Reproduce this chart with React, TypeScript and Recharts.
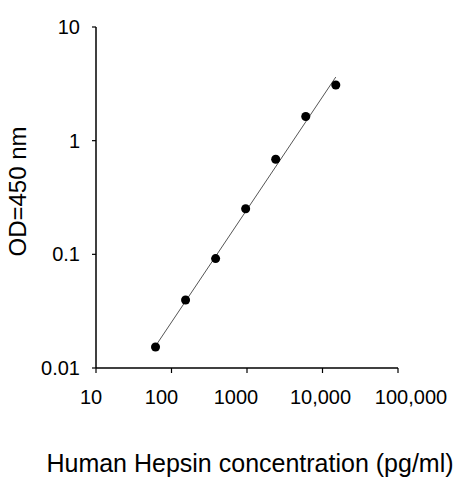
import React from "react";
import {
  ScatterChart,
  Scatter,
  XAxis,
  YAxis,
  Label,
} from "recharts";

// standard curve
const CONCENTRATION = [61.44, 153.6, 384, 960, 2400, 6000, 15000];
const OD_VALUES = [0.0153, 0.0397, 0.0917, 0.252, 0.686, 1.63, 3.09];

// ends of the fitted line
const FIT_CONCENTRATION = [61.44, 15000];
const FIT_OD = [0.0156, 3.63];

const X_TICKS = [10, 100, 1000, 10000, 100000];
const X_TICK_LABELS = ["10", "100", "1000", "10,000", "100,000"];
const Y_TICKS = [0.01, 0.1, 1, 10];
const Y_TICK_LABELS = ["0.01", "0.1", "1", "10"];

// the original plot places its x labels a bit off the ticks
const X_LABEL_NUDGE = [-5, -10, -11, -2, 13];

const FONT = "'Liberation Sans', Arial, sans-serif";

const points = CONCENTRATION.map((c, i) => ({ x: c, y: OD_VALUES[i] }));
const fit = FIT_CONCENTRATION.map((c, i) => ({ x: c, y: FIT_OD[i] }));

const tickStyle = { fill: "#000", fontSize: 20, fontFamily: FONT };
const axisLine = { stroke: "#000", strokeWidth: 1.5 };

const NoDot = () => <g />;

const XTick = ({ x, y, payload, index }: any) => {
  const i = X_TICKS.indexOf(payload.value);
  return (
    <text
      x={x + (X_LABEL_NUDGE[i] ?? 0)}
      y={y}
      dy="0.71em"
      textAnchor="middle"
      fontSize={20}
      fontFamily={FONT}
      fill="#000"
    >
      {X_TICK_LABELS[i] ?? payload.value}
    </text>
  );
};

export default function App() {
  return (
    <div style={{ position: "absolute", left: 0, top: 0, background: "#fff" }}>
      <ScatterChart
        width={463}
        height={480}
        margin={{ top: 27, right: 65, left: 0, bottom: 0 }}
      >
        <XAxis
          dataKey="x"
          type="number"
          scale="log"
          domain={[10, 100000]}
          ticks={X_TICKS}
          interval={0}
          height={112}
          tick={<XTick />}
          tickSize={5}
          tickMargin={17}
          axisLine={axisLine}
          tickLine={{ stroke: "#000", strokeWidth: 1.2 }}
          allowDataOverflow
        >
          <Label
            content={({ viewBox }: any) => (
              <text
                x={viewBox.x + viewBox.width / 2 + 3}
                y={472}
                textAnchor="middle"
                fontSize={25}
                fontFamily={FONT}
                fill="#000"
              >
                Human Hepsin concentration (pg/ml)
              </text>
            )}
          />
        </XAxis>
        <XAxis
          xAxisId="top"
          orientation="top"
          type="number"
          scale="log"
          domain={[10, 100000]}
          height={0}
          tick={false}
          tickLine={false}
          axisLine={axisLine}
        />
        <YAxis
          dataKey="y"
          type="number"
          scale="log"
          domain={[0.01, 10]}
          ticks={Y_TICKS}
          tickFormatter={(v) => Y_TICK_LABELS[Y_TICKS.indexOf(v)] ?? String(v)}
          interval={0}
          width={96}
          tick={tickStyle}
          tickSize={4}
          tickMargin={12}
          axisLine={axisLine}
          tickLine={{ stroke: "#000", strokeWidth: 1.2 }}
          allowDataOverflow
        >
          <Label
            content={({ viewBox }: any) => {
              const cx = 17;
              const cy = viewBox.y + viewBox.height / 2 - 6;
              return (
                <text
                  x={cx}
                  y={cy}
                  transform={`rotate(-90, ${cx}, ${cy})`}
                  textAnchor="middle"
                  dominantBaseline="central"
                  fontSize={24}
                  fontFamily={FONT}
                  fill="#000"
                >
                  OD=450 nm
                </text>
              );
            }}
          />
        </YAxis>
        <YAxis
          yAxisId="right"
          orientation="right"
          type="number"
          scale="log"
          domain={[0.01, 10]}
          width={0}
          tick={false}
          tickLine={false}
          axisLine={axisLine}
        />
        <Scatter
          data={fit}
          line={{ stroke: "#555", strokeWidth: 1 }}
          shape={NoDot}
          isAnimationActive={false}
        />
        <Scatter data={points} fill="#000" isAnimationActive={false} />
      </ScatterChart>
    </div>
  );
}
